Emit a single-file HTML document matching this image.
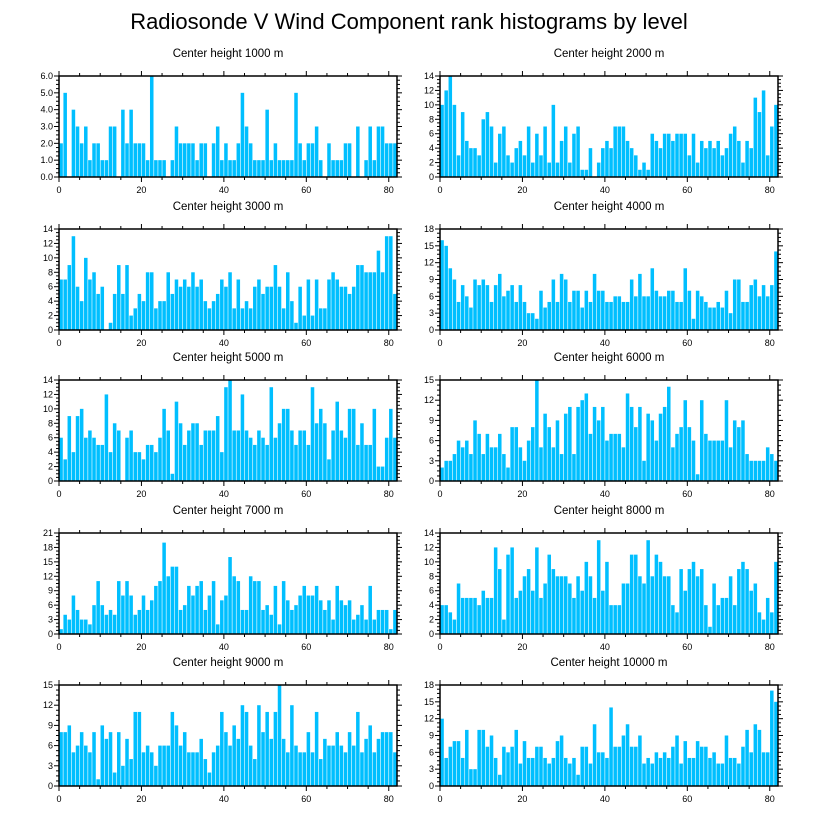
<!DOCTYPE html>
<html><head><meta charset="utf-8"><style>
html,body{margin:0;padding:0;background:#fff;}
svg{display:block;font-family:"Liberation Sans",sans-serif;}
</style></head><body>
<svg id="chart" width="818" height="824" viewBox="0 0 818 824">
<text x="409" y="29" text-anchor="middle" font-size="22">Radiosonde V Wind Component rank histograms by level</text>
</svg>
<script>
const levels = ["1000","2000","3000","4000","5000","6000","7000","8000","9000","10000"];
const yMax = [6,14,14,18,14,15,21,14,15,18];
const yStep = [1,2,2,3,2,3,3,2,3,3];
const v1000 = [2,5,0,4,3,2,3,1,2,2,1,1,3,3,0,4,2,4,2,2,2,1,6,1,1,1,0,1,3,2,2,2,2,1,2,2,0,2,3,1,2,1,1,2,5,3,2,1,1,1,4,1,2,1,1,1,1,5,2,1,2,2,3,1,0,2,1,1,1,2,2,0,3,0,1,3,1,3,3,2,2,2];
const v2000 = [10,12,14,10,3,9,5,4,4,3,8,9,7,2,6,7,3,2,4,5,3,7,2,6,3,7,2,10,2,5,7,2,6,7,1,1,4,0,2,4,5,4,7,7,7,5,4,3,1,2,1,6,5,4,6,6,5,6,6,6,3,6,2,5,4,5,4,5,3,4,6,7,5,2,5,4,11,9,12,3,7,10];
const v3000 = [7,7,9,13,6,4,10,7,8,5,6,0,1,5,9,5,9,2,3,5,4,8,8,3,4,4,8,5,7,6,7,6,8,6,7,4,3,4,5,7,6,8,3,7,3,4,3,6,7,5,6,6,9,6,3,8,4,1,6,2,7,2,7,3,3,7,8,7,6,6,5,6,9,9,8,8,8,11,8,13,13,5];
const v4000 = [16,15,11,9,5,8,6,4,9,8,9,8,5,8,10,6,7,8,5,8,5,3,3,2,7,4,5,9,5,10,9,5,7,7,4,7,5,10,7,7,5,5,6,6,5,5,9,6,10,6,6,11,7,6,6,7,7,5,5,11,7,2,7,6,5,4,4,5,4,7,3,9,9,5,5,8,9,6,8,6,8,14];
const v5000 = [6,3,9,4,9,10,6,7,6,5,5,12,4,8,7,0,6,7,4,4,3,5,5,4,6,10,7,1,11,8,5,7,8,8,5,7,7,7,9,4,13,14,7,7,12,7,6,5,7,6,5,13,6,8,10,10,7,5,7,7,5,13,8,10,8,3,7,11,7,6,10,10,5,8,5,5,10,2,2,6,10,6];
const v6000 = [2,3,3,4,6,5,6,4,9,7,4,7,5,5,7,4,2,8,8,5,3,6,8,15,5,10,8,5,9,4,10,11,4,11,12,13,7,11,9,11,6,7,7,7,5,13,11,8,11,3,10,9,6,10,11,14,5,7,8,12,8,6,1,12,7,6,6,6,6,12,5,9,8,9,4,3,3,3,3,5,4,3];
const v7000 = [1,4,3,8,5,3,3,2,6,11,6,4,5,4,11,8,11,8,4,5,8,5,7,10,11,19,12,14,14,5,6,10,8,10,11,5,8,11,2,7,8,16,12,11,5,5,12,11,11,5,6,4,10,2,11,7,5,6,8,10,8,8,10,7,5,7,3,10,7,6,7,3,4,6,3,10,3,5,5,5,1,5];
const v8000 = [4,4,3,2,7,5,5,5,5,4,6,5,5,12,9,2,11,12,5,6,8,9,6,12,5,7,11,9,8,8,8,7,5,8,6,10,8,5,13,6,10,4,4,4,7,7,11,11,8,7,13,8,11,10,8,8,4,3,9,6,9,10,8,9,4,1,7,4,5,5,8,4,9,10,9,6,7,3,2,5,3,10];
const v9000 = [8,8,9,5,6,8,6,5,8,1,9,7,8,2,8,3,7,4,11,11,5,6,5,3,6,6,6,11,9,6,8,5,5,5,7,4,2,5,6,11,8,6,9,7,12,11,6,4,12,8,11,7,11,15,7,5,12,6,5,5,8,5,11,4,7,6,6,8,6,5,8,6,11,5,7,9,5,7,8,8,8,5];
const v10000 = [12,5,7,8,8,5,10,3,3,10,10,7,9,5,2,7,6,7,10,4,8,5,5,7,7,5,4,5,8,9,5,4,5,2,7,7,4,11,6,6,5,14,7,7,9,11,7,7,9,4,5,4,6,5,6,5,7,9,4,8,5,5,8,7,7,5,6,4,4,9,5,5,4,7,10,6,11,10,6,6,17,15];
const series = [v1000,v2000,v3000,v4000,v5000,v6000,v7000,v8000,v9000,v10000];
const xTicks = [0,20,40,60,80];
const xMaxVal = 82;

const NS = "http://www.w3.org/2000/svg";
const svg = document.getElementById('chart');
function mk(tag, attrs, parent){const e=document.createElementNS(NS,tag);for(const k in attrs)e.setAttribute(k,attrs[k]);(parent||svg).appendChild(e);return e;}

const colX = [59, 440];
const rowY = [76, 229, 380, 533, 685];
const W = 338, H = 101;

series.forEach((vals, p) => {
  const X0 = colX[p % 2], Y0 = rowY[Math.floor(p / 2)];
  const g = mk('g', {});
  
  
  const xs = v => X0 + v / xMaxVal * W;
  const ys = v => Y0 + H - v / yMax[p] * H;
  const t = mk('text', {x: X0 + W / 2, y: Y0 - 19, 'text-anchor': 'middle', 'font-size': 11.5}, g);
  t.textContent = 'Center height ' + levels[p] + ' m';
  
  
  vals.forEach((v, i) => {
    if (v <= 0) return;
    const r = mk('rect', {x: xs(i) + 0.3, y: ys(v), width: xs(i + 1) - xs(i) - 0.6, height: ys(0) - ys(v), fill: '#00BFFF'}, g);
    
    
  });
  const frame = mk('rect', {x: X0, y: Y0, width: W, height: H, fill: 'none', stroke: '#000', 'stroke-width': 1.5}, g);
  
  
  for (let v = 0; v <= 80; v += 5) {
    const major = v % 20 === 0, L = major ? 5 : 3;
    mk('line', {x1: xs(v), x2: xs(v), y1: Y0 + H, y2: Y0 + H + L, stroke: '#000', 'stroke-width': 1}, g);
    mk('line', {x1: xs(v), x2: xs(v), y1: Y0, y2: Y0 - L, stroke: '#000', 'stroke-width': 1}, g);
  }
  xTicks.forEach(v => {
    const tl = mk('text', {x: xs(v), y: Y0 + H + 16, 'text-anchor': 'middle', 'font-size': 9}, g);
    tl.textContent = v;
    
    
  });
  const st = yStep[p], sub = st / 4;
  for (let k = 0; k <= yMax[p] / sub + 1e-9; k++) {
    const v = k * sub, major = k % 4 === 0, L = major ? 5 : 3;
    mk('line', {x1: X0, x2: X0 - L, y1: ys(v), y2: ys(v), stroke: '#000', 'stroke-width': 1}, g);
    mk('line', {x1: X0 + W, x2: X0 + W + L, y1: ys(v), y2: ys(v), stroke: '#000', 'stroke-width': 1}, g);
    if (major) {
      const yl = mk('text', {x: X0 - 6, y: ys(v) + 3, 'text-anchor': 'end', 'font-size': 9}, g);
      yl.textContent = p === 0 ? v.toFixed(1) : v;
      
      
    }
  }
});
</script>
</body></html>
